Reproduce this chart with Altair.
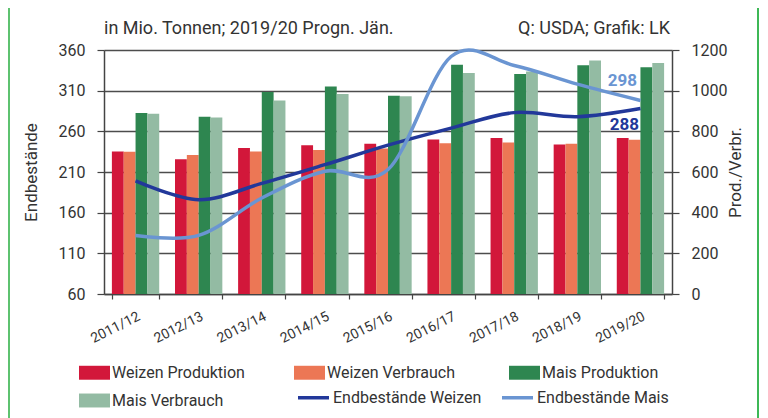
import altair as alt
import pandas as pd

years = ["2011/12", "2012/13", "2013/14", "2014/15", "2015/16",
         "2016/17", "2017/18", "2018/19", "2019/20"]
weizen_prod = [701, 663, 718, 732, 739, 760, 767, 735, 767]
weizen_verb = [699, 683, 701, 708, 716, 742, 745, 739, 759]
mais_prod = [890, 872, 993, 1020, 975, 1127, 1082, 1125, 1115]
mais_verb = [887, 868, 952, 984, 972, 1087, 1094, 1148, 1136]
weizen_end = [199, 176, 196, 219, 243, 264, 283, 278, 288]
mais_end = [132, 132, 178, 211, 213, 352, 341, 318, 298]

bar_series = ["Weizen Produktion", "Weizen Verbrauch", "Mais Produktion", "Mais Verbrauch"]
bar_colors = ["#D2173A", "#EC7755", "#2E8650", "#93BBA3"]
line_series = ["Endbestände Weizen", "Endbestände Mais"]
line_colors = ["#22389A", "#6A95D2"]
left_ticks = [60, 110, 160, 210, 260, 310, 360]
right_ticks = [0, 200, 400, 600, 800, 1000, 1200]
end_labels = ["298", "288"]
end_values = [298, 288]

header_left = "in Mio. Tonnen; 2019/20 Progn. Jän."
header_right = "Q: USDA; Grafik: LK"

FONT = "Roboto"
TXT = "#333333"

rows = []
for s, vals in zip(bar_series, [weizen_prod, weizen_verb, mais_prod, mais_verb]):
    for y, v in zip(years, vals):
        rows.append({"year": y, "series": s, "value": v})
df_bars = pd.DataFrame(rows)

rows = []
for s, vals in zip(line_series, [weizen_end, mais_end]):
    for y, v in zip(years, vals):
        rows.append({"year": y, "series": s, "value": v})
df_lines = pd.DataFrame(rows)

W, H = 568, 244

xenc = alt.X("year:N", sort=years,
             scale=alt.Scale(paddingInner=0.25, paddingOuter=0.125),
             axis=alt.Axis(title=None, tickBand="extent", tickSize=5, labelAngle=-27,
                           labelAlign="right", labelBaseline="top", labelPadding=10,
                           labelFontSize=14))

bars = alt.Chart(df_bars).mark_bar().encode(
    x=xenc,
    xOffset=alt.XOffset("series:N", sort=bar_series, scale=alt.Scale(paddingInner=0, paddingOuter=0)),
    y=alt.Y("value:Q", scale=alt.Scale(domain=[0, 1200], nice=False),
            axis=alt.Axis(orient="right", values=right_ticks, format="d", title="Prod./Verbr.",
                          grid=False, tickSize=7, labelPadding=12, titlePadding=18,
                          titleAngle=270)),
    color=alt.Color("series:N", scale=alt.Scale(domain=bar_series, range=bar_colors),
                    legend=alt.Legend(title=None, orient="none", legendX=-25, legendY=307,
                                      columns=3, direction="horizontal",
                                      symbolType="M-1,-0.45H1V0.45H-1Z", symbolSize=961,
                                      symbolStrokeWidth=0, symbolOpacity=1,
                                      labelFontSize=16, labelOffset=2, gridAlign="all",
                                      columnPadding=49, rowPadding=4)),
)

lines = alt.Chart(df_lines).mark_line(interpolate="cardinal", strokeWidth=3.5).encode(
    x=alt.X("year:N", sort=years),
    y=alt.Y("value:Q", scale=alt.Scale(domain=[60, 360], nice=False),
            axis=alt.Axis(orient="left", values=left_ticks, title="Endbestände", grid=True,
                          tickSize=7, labelPadding=12, titlePadding=18)),
    color=alt.Color("series:N", scale=alt.Scale(domain=line_series, range=line_colors),
                    legend=alt.Legend(title=None, orient="none", legendX=192, legendY=330,
                                      columns=2, direction="horizontal",
                                      symbolType="stroke", symbolSize=961, symbolStrokeWidth=3.5,
                                      labelFontSize=16, labelOffset=2, gridAlign="all",
                                      columnPadding=13)),
)

df_lab = pd.DataFrame({"year": [years[-1], years[-1]], "value": end_values, "label": end_labels})
lab1 = alt.Chart(df_lab.iloc[[0]]).mark_text(dx=-18, dy=-19, fontSize=17, fontWeight="bold",
                                             color=line_colors[1], font=FONT).encode(
    x=alt.X("year:N", sort=years),
    y=alt.Y("value:Q", scale=alt.Scale(domain=[60, 360], nice=False), axis=None),
    text="label:N")
lab2 = alt.Chart(df_lab.iloc[[1]]).mark_text(dx=-16, dy=16, fontSize=17, fontWeight="bold",
                                             color=line_colors[0], font=FONT).encode(
    x=alt.X("year:N", sort=years),
    y=alt.Y("value:Q", scale=alt.Scale(domain=[60, 360], nice=False), axis=None),
    text="label:N")

hdr = pd.DataFrame({"t": [header_left]})
h1 = alt.Chart(hdr).mark_text(align="left", baseline="middle", fontSize=18, color=TXT, font=FONT).encode(
    x=alt.value(0), y=alt.value(-21), text="t:N")
hdr2 = pd.DataFrame({"t": [header_right]})
h2 = alt.Chart(hdr2).mark_text(align="right", baseline="middle", fontSize=18, color=TXT, font=FONT).encode(
    x=alt.value(566), y=alt.value(-21), text="t:N")

border_l = alt.Chart(pd.DataFrame({"a": [0]})).mark_rule(color="#5EC270", strokeWidth=2).encode(
    x=alt.value(-95), y=alt.value(-42), y2=alt.value(370))
border_r = alt.Chart(pd.DataFrame({"a": [0]})).mark_rule(color="#3DB856", strokeWidth=2).encode(
    x=alt.value(654), y=alt.value(-42), y2=alt.value(370))

chart = alt.layer(bars, lines, lab1, lab2, h1, h2, border_l, border_r).resolve_scale(
    y="independent", color="independent"
).properties(
    width=W, height=H,
    autosize=alt.AutoSizeParams(type="none"),
    padding={"left": 96, "top": 42, "right": 88, "bottom": 124},
    background="white",
).configure_view(stroke=None).configure_axis(
    labelFont=FONT, titleFont=FONT, labelColor=TXT, titleColor=TXT,
    labelFontSize=16, titleFontSize=17, titleFontWeight="normal",
    domainColor="#444444", tickColor="#444444", gridColor="#4d4d4d",
    domainWidth=1.5, tickWidth=1.2, gridWidth=1.3, gridOpacity=1,
).configure_legend(labelFont=FONT, labelColor=TXT)

chart.save("out.html", embed_options={"renderer": "svg", "actions": False})
